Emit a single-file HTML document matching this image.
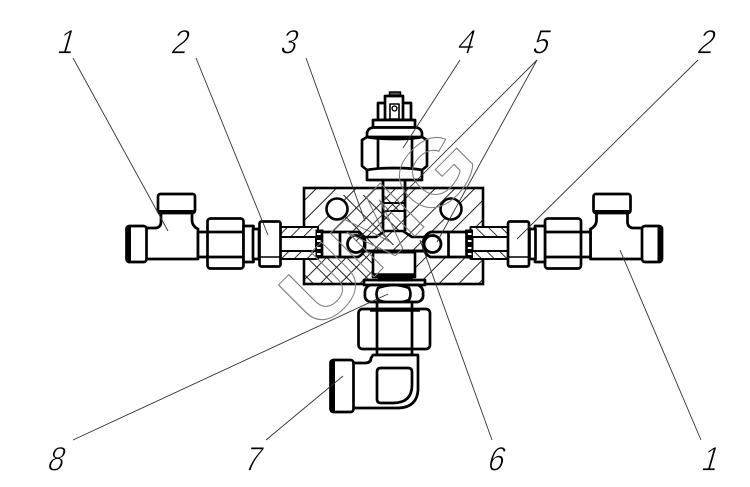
<!DOCTYPE html>
<html><head><meta charset="utf-8"><style>
html,body{margin:0;padding:0;background:#fff}
svg{display:block}
.d{font-family:"Liberation Sans",sans-serif;font-size:34px;fill:#000;stroke:#fff;stroke-width:.85px}
</style></head><body>
<svg width="750" height="487" viewBox="0 0 750 487" xmlns="http://www.w3.org/2000/svg">
<defs>
<pattern id="h1" width="14" height="14" patternUnits="userSpaceOnUse" patternTransform="rotate(-45 0 0)"><rect width="14" height="14" fill="#fff"/><line x1="0" y1="7" x2="14" y2="7" stroke="#222" stroke-width="1"/></pattern>
<pattern id="h2" width="14" height="14" patternUnits="userSpaceOnUse" patternTransform="rotate(45 0 0)"><line x1="0" y1="7" x2="14" y2="7" stroke="#222" stroke-width="1"/></pattern>
<pattern id="h3" width="9" height="9" patternUnits="userSpaceOnUse" patternTransform="rotate(-45 0 0)"><rect width="9" height="9" fill="#fff"/><line x1="0" y1="4" x2="9" y2="4" stroke="#333" stroke-width="1"/></pattern>
<g id="side" fill="#fff" stroke="#000" stroke-width="2.7" stroke-linejoin="round">
  <path d="M161 212 V222 Q161 227 156 228 H146 V259 H198 V229 Q192 226 192 220 V212Z"/>
  <rect x="158" y="194" width="37" height="19" rx="2.5"/>
  <line x1="159" y1="212" x2="194" y2="212" stroke-width="4"/>
  <rect x="126.500" y="226" width="20" height="36" rx="3"/>
  <line x1="129" y1="227" x2="129" y2="261" stroke-width="4"/>
  <rect x="198" y="232" width="10" height="25"/>
  <rect x="207.500" y="218.500" width="36" height="50" rx="3"/>
  <line x1="208" y1="232" x2="243" y2="232"/>
  <line x1="208" y1="257" x2="243" y2="257"/>
  <rect x="243.500" y="226" width="10" height="36"/>
  <rect x="253" y="229" width="6" height="30"/>
  <path d="M280 227 H318 V259 H280Z" fill="url(#h3)" stroke-width="2"/>
  <path d="M276 237 H316 V251 H276 L273 244Z" stroke-width="2"/>
  <rect x="259.500" y="221.500" width="21" height="45" rx="2"/>
  <line x1="260" y1="257" x2="280" y2="257" stroke-width="1.6"/>
  <path d="M316 230 H323 V258 H316Z" fill="#000" stroke-width="1"/>
  <path d="M317 234 h5 M317 241 h5 M317 248 h5 M317 254 h5" stroke="#fff" stroke-width="2"/>
  <path d="M322 232 H358 Q366 236 365 244 Q366 253 358 257 H322Z"/>
  <line x1="340" y1="232" x2="340" y2="257"/>
  <circle cx="356" cy="244" r="8.500" stroke-width="2.8"/>
</g>
</defs>
<rect width="750" height="487" fill="#fff"/>

<!-- block -->
<rect x="304" y="188" width="179" height="96" fill="url(#h1)"/>
<rect x="304" y="246" width="90" height="38" fill="url(#h2)"/>
<rect x="340" y="195" width="60" height="50" fill="url(#h2)"/>
<rect x="304" y="188" width="179" height="96" fill="none" stroke="#000" stroke-width="2.6"/>
<circle cx="337" cy="209" r="10.500" fill="#fff" stroke="#000" stroke-width="2.6"/>
<circle cx="451" cy="209" r="10.500" fill="#fff" stroke="#000" stroke-width="2.6"/>

<!-- sides -->
<use href="#side"/>
<use href="#side" transform="translate(788.500 0) scale(-1 1)"/>

<!-- centre -->
<g fill="none" stroke="#000" stroke-width="2.6" stroke-linejoin="round">
  <path d="M364 237 H376 L385 231 H403 L412 237 H424" />
  <path d="M364 251 H424" stroke-width="3"/>
  <rect x="373" y="251" width="42" height="26" fill="#fff"/>
  <line x1="373" y1="252" x2="415" y2="252" stroke-width="3"/>
  <line x1="374" y1="275" x2="414" y2="275" stroke-width="3.500"/>
  <path d="M383 180 V231 M405 180 V231" stroke-width="2.800"/>
  <path d="M384 203 H404 M384 211 H404" stroke-width="2"/>
</g>

<!-- top sensor -->
<g fill="#fff" stroke="#000" stroke-width="2.7" stroke-linejoin="round">
  <rect x="389.500" y="92" width="11" height="4" fill="#555" stroke-width="1.500"/>
  <rect x="378" y="103" width="33" height="17"/>
  <rect x="385" y="96" width="18" height="24"/>
  <rect x="390" y="104" width="9" height="15" stroke-width="1.600"/>
  <circle cx="394.500" cy="108.500" r="2.400" stroke-width="1.400"/>
  <rect x="373" y="120" width="42" height="7.500"/>
  <path d="M367 137 V133 Q368 128 373 127.500 H416 Q421 128 422 133 V137Z"/>
  <rect x="367" y="168" width="55" height="12"/>
  <path d="M367 137 L362 140 V166 L367 170 Q378 168 394 168 Q412 168 422 170 L427 166 V140 L422 137 Q412 139 394 139 Q378 139 367 137Z"/>
  <line x1="378" y1="138" x2="378" y2="169"/>
  <line x1="412" y1="138" x2="412" y2="169"/>
</g>

<!-- bottom fittings -->
<g fill="#fff" stroke="#000" stroke-width="2.7" stroke-linejoin="round">
  <rect x="364" y="280" width="61" height="5"/>
  <rect x="378" y="278" width="34" height="3" fill="#000" stroke-width="1"/>
  <path d="M370 285 H418 Q424 288 423 294 Q424 300 418 302 H370 Q364 300 365 294 Q364 288 370 285Z"/>
  <path d="M378 288 Q394 282 409 288 Q412 294 409 300 Q394 306 378 300 Q375 294 378 288Z"/>
  <rect x="377" y="302" width="35" height="7"/>
  <rect x="358.500" y="309" width="71.500" height="40" rx="4"/>
  <line x1="377" y1="309" x2="377" y2="349"/>
  <line x1="412" y1="309" x2="412" y2="349"/>
  <line x1="370" y1="310" x2="420" y2="310" stroke-width="3.500"/>
  <rect x="377" y="349" width="35" height="6"/>
  <path d="M373 355 H418 V390 Q417 407 399 408 H353 V363 H365 Q371 363 371 358Z"/>
  <path d="M381 368 H408 Q412 368 412 372 V385 Q412 403 393 403 H381 Q377 403 377 399 V372 Q377 368 381 368Z"/>
  <rect x="330.500" y="360" width="23" height="52" rx="3"/>
  <line x1="333" y1="361" x2="333" y2="411" stroke-width="4"/>
</g>

<!-- watermark -->
<text x="318" y="333" transform="rotate(-45 318 333)" font-family="'Liberation Sans',sans-serif" font-weight="bold" font-size="90" fill="none" stroke="#808080" stroke-width="1" textLength="235" lengthAdjust="spacingAndGlyphs">UMG</text>

<!-- leaders -->
<g stroke="#333" stroke-width=".9" fill="none">
  <line x1="73" y1="58" x2="168" y2="231"/>
  <line x1="196" y1="58" x2="268" y2="235"/>
  <line x1="306" y1="58" x2="365" y2="221"/>
  <line x1="460" y1="60" x2="403" y2="148"/>
  <line x1="537" y1="60" x2="356" y2="241"/>
  <line x1="537" y1="60" x2="437" y2="242"/>
  <line x1="698" y1="60" x2="517" y2="239"/>
  <line x1="620" y1="250" x2="701" y2="440"/>
  <line x1="420" y1="240" x2="492" y2="440"/>
  <line x1="343" y1="376" x2="266" y2="440"/>
  <line x1="388" y1="294" x2="73" y2="440"/>
</g>

<!-- labels -->
<g class="d">
  <text transform="translate(56 53.500) skewX(-16) scale(.85 1)">1</text>
  <text transform="translate(170 53.500) skewX(-16) scale(.85 1)">2</text>
  <text transform="translate(279 53.500) skewX(-16) scale(.85 1)">3</text>
  <text transform="translate(456 53.500) skewX(-16) scale(.85 1)">4</text>
  <text transform="translate(531 53.500) skewX(-16) scale(.85 1)">5</text>
  <text transform="translate(696 53.500) skewX(-16) scale(.85 1)">2</text>
  <text transform="translate(46 470.500) skewX(-16) scale(.85 1)">8</text>
  <text transform="translate(243 470.500) skewX(-16) scale(.85 1)">7</text>
  <text transform="translate(486 470.500) skewX(-16) scale(.85 1)">6</text>
  <text transform="translate(700 470.500) skewX(-16) scale(.85 1)">1</text>
</g>
</svg>
</body></html>
